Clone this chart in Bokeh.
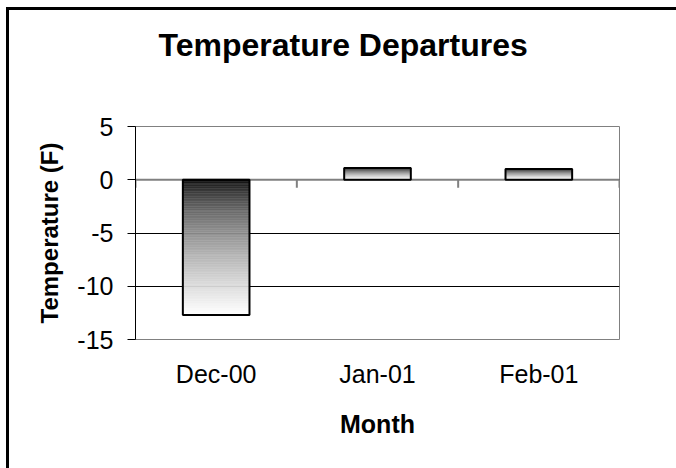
from bokeh.plotting import figure
from bokeh.layouts import column
from bokeh.models import FixedTicker, Range1d, Title, LinearAxis
from bokeh.embed import file_html
from bokeh.resources import INLINE

# ---- data ----
months = ["Dec-00", "Jan-01", "Feb-01"]
departures = [-12.7, 1.1, 1.0]
y_ticks = [-15, -10, -5, 0, 5]
y_min, y_max = -15, 5
title_text = "Temperature Departures"
x_title = "Month"
y_title = "Temperature (F)"

FONT = "Liberation Sans"

n = len(months)
x_pos = [i + 0.5 for i in range(n)]
bounds = list(range(n + 1))
bar_w = 0.413

p = figure(width=676, height=468, output_backend="svg", toolbar_location=None,
           title_location=None,
           x_range=Range1d(0, n), y_range=Range1d(y_min, y_max),
           min_border_left=135, min_border_right=57,
           min_border_top=126, min_border_bottom=129)

p.background_fill_color = "white"
p.border_fill_color = None
p.outline_line_color = "#808080"
p.outline_line_width = 1

# empty spacer between plot area and title, then the title
spacer = LinearAxis(ticker=FixedTicker(ticks=[0]), axis_line_color=None,
                    major_tick_line_color=None, minor_tick_line_color=None,
                    major_tick_out=59, major_tick_in=0, minor_tick_out=0,
                    major_label_overrides={0: ""}, major_label_standoff=0,
                    major_label_text_font_size="1px")
p.add_layout(spacer, "above")
p.add_layout(Title(text=title_text, align="left", offset=23, standoff=10,
                   text_font=FONT, text_font_size="32px", text_font_style="bold",
                   text_color="black"), "above")

# grid
p.xgrid.visible = False
p.ygrid.ticker = FixedTicker(ticks=y_ticks)
p.ygrid.grid_line_color = "black"
p.ygrid.grid_line_width = 1

# y axis
yax = p.yaxis[0]
yax.ticker = FixedTicker(ticks=y_ticks)
yax.major_label_overrides = {t: str(t) for t in y_ticks}
yax.axis_line_color = "black"
yax.axis_line_width = 1
yax.major_tick_line_color = "black"
yax.major_tick_out = 8
yax.major_tick_in = 0
yax.minor_tick_line_color = None
yax.major_label_text_font = FONT
yax.major_label_text_font_size = "25px"
yax.major_label_text_color = "black"
yax.major_label_standoff = 14
yax.axis_label = y_title
yax.axis_label_text_font = FONT
yax.axis_label_text_font_size = "24px"
yax.axis_label_text_font_style = "bold"
yax.axis_label_text_color = "black"
yax.axis_label_standoff = 11

# x axis (labels only, at bottom)
xax = p.below[0]
xax.ticker = FixedTicker(ticks=x_pos)
xax.major_label_overrides = {x: m for x, m in zip(x_pos, months)}
xax.axis_line_color = None
xax.major_tick_line_color = None
xax.major_tick_out = 0
xax.major_tick_in = 0
xax.minor_tick_line_color = None
xax.major_label_text_font = FONT
xax.major_label_text_font_size = "25px"
xax.major_label_text_color = "black"
xax.major_label_standoff = 20
xax.axis_label = x_title
xax.axis_label_text_font = FONT
xax.axis_label_text_font_size = "25px"
xax.axis_label_text_font_style = "bold"
xax.axis_label_text_color = "black"
xax.axis_label_standoff = 19

# zero (category axis) line and boundary ticks
p.segment(x0=[0], y0=[0], x1=[n], y1=[0], line_color="#808080", line_width=2)
tick_len = 0.75
p.segment(x0=bounds, y0=[0] * len(bounds), x1=bounds, y1=[-tick_len] * len(bounds),
          line_color="#808080", line_width=2)

# gradient bars: dark at top, light at bottom
N = 80
L, R, T, B, C = [], [], [], [], []
for x, v in zip(x_pos, departures):
    top, bot = max(v, 0), min(v, 0)
    h = top - bot
    for k in range(N):
        t0 = top - h * k / N
        t1 = top - h * (k + 1) / N
        g = int(round(255 * ((k + 0.5) / N) ** 0.6))
        L.append(x - bar_w / 2)
        R.append(x + bar_w / 2)
        T.append(t0)
        B.append(t1)
        C.append("#%02x%02x%02x" % (g, g, g))
p.quad(left=L, right=R, top=T, bottom=B, fill_color=C, line_color=C, line_width=0.5)
p.quad(left=[x - bar_w / 2 for x in x_pos], right=[x + bar_w / 2 for x in x_pos],
       top=[max(v, 0) for v in departures], bottom=[min(v, 0) for v in departures],
       fill_color=None, line_color="black", line_width=2)

# chart-area border (left and top edges fall inside the window)
root = column(p, width=676, height=468,
              styles={"box-shadow": "inset 6px 7px 0 0 white, inset 9px 10px 0 0 black"})

open("out.html", "w").write(file_html(root, INLINE))
